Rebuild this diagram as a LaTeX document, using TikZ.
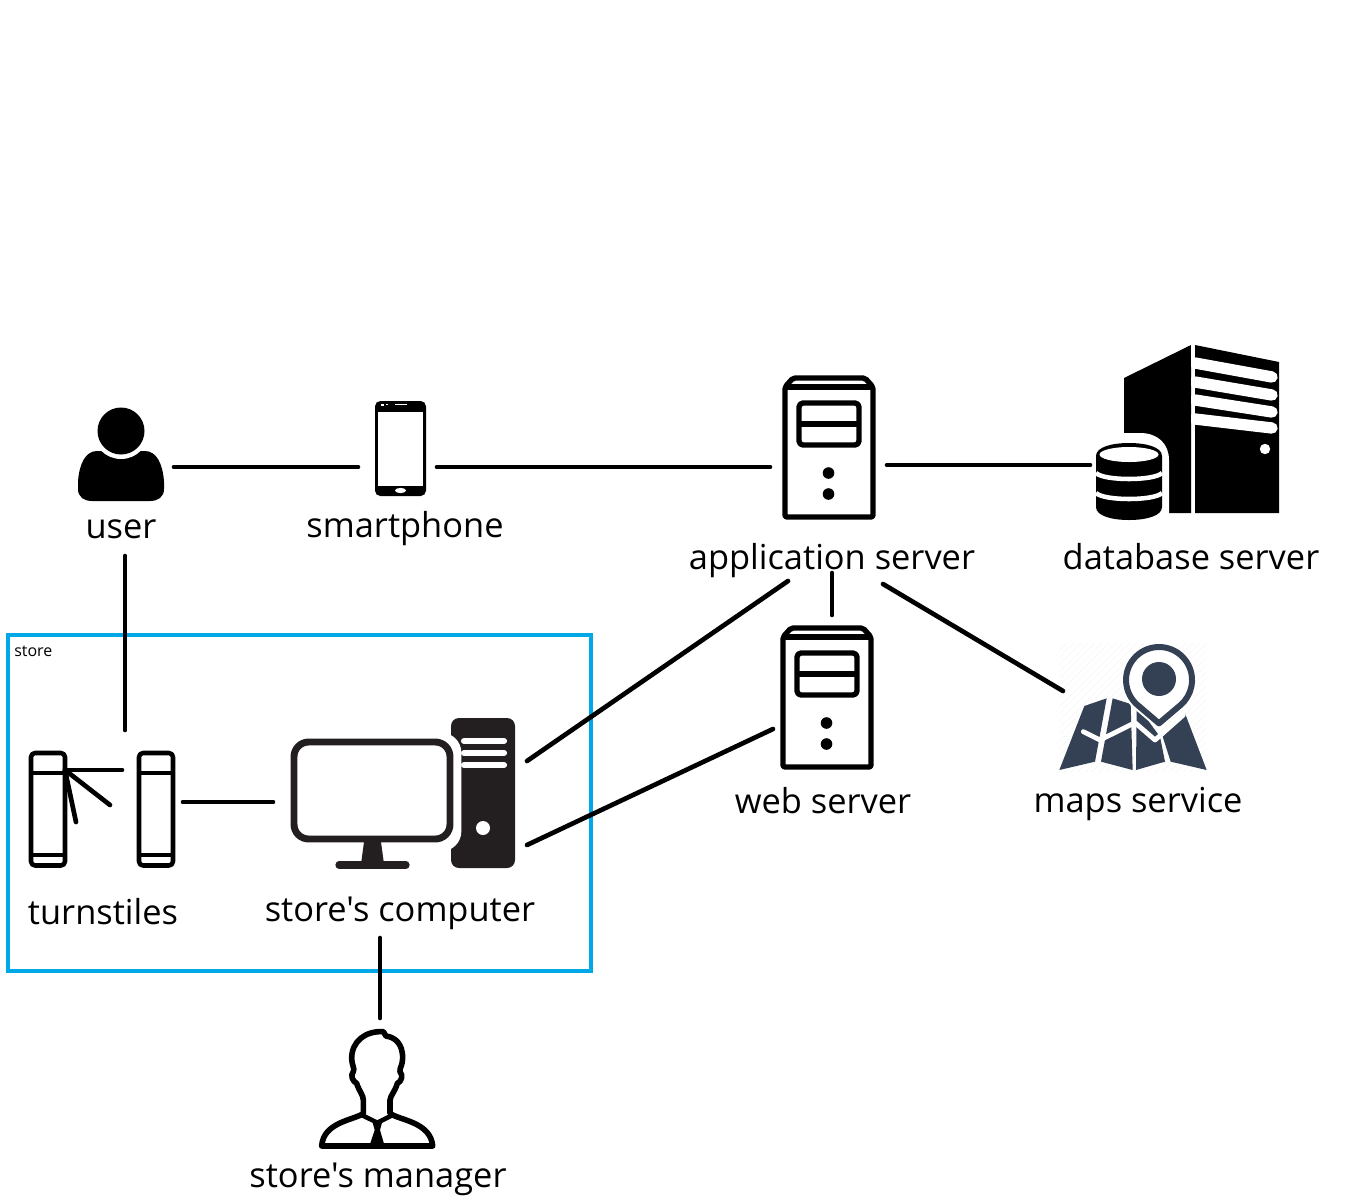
\documentclass[tikz,border=0pt]{standalone}
\usepackage{fontspec}
\setmainfont{Open Sans}[Ligatures=TeXOff]
\definecolor{storeblue}{HTML}{00A8E8}
\definecolor{mapdark}{HTML}{344155}
\definecolor{towerdark}{HTML}{231F20}
\definecolor{hatch}{HTML}{F5F5F5}
\tikzset{
  conn/.style={draw=black,line width=3.5pt,line cap=round},
  lbl/.style={font=\fontsize{25.8}{30}\selectfont,inner sep=0pt,text=black,anchor=base},
  outlined/.style={draw=black,line width=4pt,line join=round},
  pics/serverbox/.style={code={
    \draw[outlined,fill=white,rounded corners=1.5pt] (0,11) -- (8,2) -- (80,2) -- (88,11) -- (88,141) -- (0,141) -- cycle;
    \draw[outlined] (0,11) -- (88,11);
    \draw[outlined,rounded corners=3pt] (14,27) rectangle (74,69);
    \draw[outlined] (14,48) -- (74,48);
    \fill (43.5,97) circle[radius=5.8];
    \fill (43.5,118) circle[radius=5.8];
  }}
}
\begin{document}
\begin{tikzpicture}[x=0.75pt,y=-0.75pt]
\useasboundingbox (0,0) rectangle (1350,1200);
% store frame
\draw[draw=storeblue,line width=3pt] (7.5,635) rectangle (591,971);
\node[inner sep=0pt,anchor=west,font=\fontsize{12}{14}\selectfont] (storelbl) at (14,651) {store};

% user icon
\fill (78,482) .. controls (79,465) and (85,451) .. (97,451) -- (145,451) .. controls (157,451) and (163,465) .. (164,482) -- (164,489) .. controls (164,497) and (158,501) .. (150,501) -- (92,501) .. controls (84,501) and (78,497) .. (78,489) -- cycle;
\fill[white] (121,431) circle[radius=28];
\fill (121,431) circle[radius=23.5];

% smartphone icon
\fill[rounded corners=4pt] (375,401) rectangle (426,496);
\fill[white] (378,412) rectangle (423,486);
\fill[white] (400.5,490.5) ellipse[x radius=5.5,y radius=2.6];
\fill[white] (381,403.5) rectangle (384,405.5);
\fill[white] (386,404) rectangle (387.5,405);
\fill[white] (395,404) rectangle (407,405);

% servers
\pic at (785,376) {serverbox};
\pic at (783,626) {serverbox};

% database server icon
\fill (1124,378) -- (1191,345) -- (1191,513) -- (1124,513) -- cycle;
\fill (1195,345) -- (1279,362) -- (1279,513) -- (1195,513) -- cycle;
\begin{scope}
\clip (1191,340) rectangle (1285,520);
\foreach \a/\b/\c in {363/1272/377,382/1272/395,400/1272/412,419/1272/428}{
  \draw[white,line width=8.5pt,line cap=round] (1195,\a) -- (\b,\c);
}
\end{scope}
\fill[white] (1191,340) rectangle (1195,360);
\fill[white] (1265,449) circle[radius=5.2];
\fill[white] (1090,433) -- (1140,433) .. controls (1158,433) and (1169,444) .. (1169,460) -- (1169,525) -- (1090,525) -- cycle;
\fill (1096,456) .. controls (1096,447) and (1112,443) .. (1129,443) .. controls (1146,443) and (1162,447) .. (1162,456) -- (1162,507) .. controls (1162,516) and (1146,520) .. (1129,520) .. controls (1112,520) and (1096,516) .. (1096,507) -- cycle;
\fill[white] (1129,454.5) ellipse[x radius=29.5,y radius=7.5];
\draw[white,line width=3.4pt] (1096,473) .. controls (1104,481) and (1154,481) .. (1162,473);
\draw[white,line width=3.4pt] (1096,493) .. controls (1104,501) and (1154,501) .. (1162,493);

% maps icon
\begin{scope}
\clip (1060,643) rectangle (1206,771);
\foreach \i in {0,7,...,280}{
  \draw[hatch,line width=0.5pt] (1060+\i,643) -- (1060+\i-130,773);
}
\end{scope}
\begin{scope}[shift={(1040,630)},x=0.25pt,y=-0.25pt]
\fill[mapdark] (133,228) -- (200,205) -- (165,395) -- (58,420) -- cycle;
\fill[mapdark] (218,205) -- (272,222) -- (278,420) -- (183,395) -- cycle;
\fill[mapdark] (290,225) -- (345,300) -- (360,320) -- (375,395) -- (288,420) -- cycle;
\fill[mapdark] (435,250) -- (500,420) -- (392,395) -- (368,320) -- cycle;
\draw[white,line width=3.6pt,line cap=round,line join=round] (130,305) -- (180,330) -- (285,278) -- (345,330) -- (430,255);
\draw[white,fill=white,line width=7.5pt,line join=round] (357,280) -- (293,225.4) arc[start angle=130.4,delta angle=279.2,radius=99] -- cycle;
\draw[mapdark,line width=4.5pt,line join=round] (357,280) -- (293,225.4) arc[start angle=130.4,delta angle=279.2,radius=99] -- cycle;
\fill[mapdark] (357,147) circle[radius=51];
\end{scope}

% turnstile icon
\foreach \dx in {0,108}{
  \begin{scope}[shift={(\dx,0)}]
  \draw[outlined,rounded corners=3pt,line width=3.4pt] (31,753) rectangle (65,865.5);
  \draw[black,line width=3.4pt] (31,773) -- (65,773);
  \draw[black,line width=3.4pt] (31,855) -- (65,855);
  \end{scope}
}
\coordinate (armhub) at (65,770);
\coordinate (arma) at (122,770);
\coordinate (armb) at (110,805);
\coordinate (armc) at (76,822);
\draw[conn] (armhub) -- (arma);
\draw[conn] (armhub) -- (armb);
\draw[conn] (armhub) -- (armc);

% computer icon
\fill[towerdark,rounded corners=6pt] (451,718) rectangle (515,868);
\foreach \y in {741,753,765}{
  \draw[white,line width=4.6pt,line cap=round] (464,\y) -- (504,\y);
}
\fill[white] (483,828) circle[radius=7];
\draw[white,line width=8pt,rounded corners=11pt] (291,738) rectangle (456,846);
\draw[towerdark,line width=5.2pt,fill=white,rounded corners=11pt] (294,742) rectangle (450,839);
\fill[towerdark] (364,842) -- (381,842) -- (384,864) -- (361,864) -- cycle;
\draw[towerdark,line width=5.4pt,line cap=round] (339,865) -- (406,865);

% manager icon
\begin{scope}[shift={(300,1020)},x=0.25pt,y=-0.25pt]
\draw[black,line width=4.2pt,line join=round,fill=white] (250,35) .. controls (195,32) and (155,65) .. (155,115) .. controls (155,135) and (165,145) .. (160,155) .. controls (150,165) and (158,185) .. (170,190) .. controls (178,215) and (190,225) .. (190,240) -- (190,280) .. controls (165,300) and (70,305) .. (65,378) -- (398,378) .. controls (392,305) and (295,300) .. (270,280) -- (270,240) .. controls (272,225) and (285,215) .. (292,190) .. controls (305,185) and (310,165) .. (300,155) .. controls (298,145) and (308,135) .. (308,115) .. controls (308,70) and (285,52) .. (258,48) -- cycle;
\draw[black,line width=3.4pt,line join=round] (185,285) -- (232,308) -- (278,285);
\fill[black] (218,308) -- (246,308) -- (240,330) -- (254,378) -- (208,378) -- (224,330) -- cycle;
\end{scope}

% labels
\node[lbl] (user) at (121,538) {user};
\node[lbl] (smartphone) at (405,537) {smartphone};
\node[lbl] (appserver) at (832,569) {application server};
\node[lbl] (dbserver) at (1191,569) {database server};
\node[lbl] (webserver) at (823,813) {web server};
\node[lbl] (maps) at (1138,812) {maps service};
\node[lbl] (turnstiles) at (103,924) {turnstiles};
\node[lbl] (computer) at (400,921) {store's computer};
\node[lbl] (manager) at (378,1187) {store's manager};

% connector ends
\coordinate (c1a) at (174,467);  \coordinate (c1b) at (358,467);
\coordinate (c2a) at (437,467);  \coordinate (c2b) at (770,467);
\coordinate (c3a) at (887,465);  \coordinate (c3b) at (1090,465);
\coordinate (c4a) at (125,556);  \coordinate (c4b) at (125,730);
\coordinate (c5a) at (183,802);  \coordinate (c5b) at (273,802);
\coordinate (c6a) at (380,938);  \coordinate (c6b) at (380,1018);
\coordinate (c7a) at (527,761);  \coordinate (c7b) at (788,581);
\coordinate (c8a) at (527,845);  \coordinate (c8b) at (773,729);
\coordinate (c9a) at (832,573);  \coordinate (c9b) at (832,615);
\coordinate (c10a) at (883,584); \coordinate (c10b) at (1063,691);
\foreach \n in {1,...,10}{ \draw[conn] (c\n a) -- (c\n b); }
\end{tikzpicture}
\end{document}
